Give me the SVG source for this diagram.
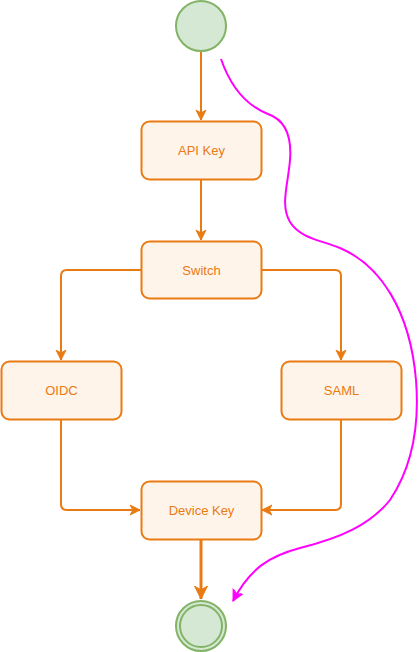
<svg xmlns="http://www.w3.org/2000/svg" width="419" height="652" viewBox="0 0 419 652">
<style>
.box{fill:#fef4ea;stroke:#ea7a12;stroke-width:2}
.lbl{font-family:"Liberation Sans",Arial,sans-serif;font-size:13px;fill:#ea7a12;text-anchor:middle;dominant-baseline:central}
.edge{fill:none;stroke:#ea7a12;stroke-width:2}
.thick{stroke-width:3}
.circ{fill:#d5e8d4;stroke:#82b366;stroke-width:2}
</style>
<defs>
<marker id="arr" markerWidth="12" markerHeight="12" refX="10" refY="6" orient="auto" markerUnits="userSpaceOnUse">
<path d="M0,1 L10,6 L0,11 L3,6 Z" fill="#ea7a12" stroke="#ea7a12" stroke-width="1"/>
</marker>
<marker id="arrb" markerWidth="16" markerHeight="16" refX="13" refY="8" orient="auto" markerUnits="userSpaceOnUse">
<path d="M0,1.5 L13,8 L0,14.5 L4,8 Z" fill="#ea7a12" stroke="#ea7a12" stroke-width="1"/>
</marker>
<marker id="arrm" markerWidth="14" markerHeight="14" refX="11" refY="7" orient="auto" markerUnits="userSpaceOnUse">
<path d="M0,1.5 L11,7 L0,12.5 L3,7 Z" fill="#ff00ff" stroke="#ff00ff" stroke-width="1"/>
</marker>
</defs>
<g id="edges">
<path class="edge" d="M201,51 V120" marker-end="url(#arr)"/>
<path class="edge" d="M201,179 V240" marker-end="url(#arr)"/>
<path class="edge" d="M141,270 H67 Q61,270 61,276 V360" marker-end="url(#arr)"/>
<path class="edge" d="M261,270 H335 Q341,270 341,276 V360" marker-end="url(#arr)"/>
<path class="edge" d="M61,419 V504 Q61,510 67,510 H140" marker-end="url(#arr)"/>
<path class="edge" d="M341,419 V504 Q341,510 335,510 H262" marker-end="url(#arr)"/>
<path class="edge thick" d="M201,539 V599" marker-end="url(#arrb)"/>
<path d="M221,59 C230,85 245,105 268,114 C285,120 292,135 290,160 C288,185 280,205 290,222 C300,238 320,240 340,248 C380,265 410,310 416,380 C420,430 410,470 390,500 C370,525 340,538 300,548 C270,556 250,568 233,601" fill="none" stroke="#ff00ff" stroke-width="2" marker-end="url(#arrm)"/>
</g>
<g id="start"><circle class="circ" cx="201" cy="26" r="25"/></g>
<g id="apikey"><rect class="box" x="141.5" y="121.5" width="120" height="58" rx="8"/><text class="lbl" x="201.5" y="150.5">API Key</text></g>
<g id="switch"><rect class="box" x="141.5" y="241.5" width="120" height="57" rx="8"/><text class="lbl" x="201.5" y="270">Switch</text></g>
<g id="oidc"><rect class="box" x="1.5" y="361.5" width="120" height="58" rx="8"/><text class="lbl" x="61.5" y="390.5">OIDC</text></g>
<g id="saml"><rect class="box" x="281.5" y="361.5" width="120" height="58" rx="8"/><text class="lbl" x="341.5" y="390.5">SAML</text></g>
<g id="devicekey"><rect class="box" x="141.5" y="481.5" width="120" height="58" rx="8"/><text class="lbl" x="201.5" y="510.5">Device Key</text></g>
<g id="end"><circle class="circ" cx="201" cy="626" r="25"/><circle class="circ" cx="201" cy="626" r="21"/></g>
</svg>
